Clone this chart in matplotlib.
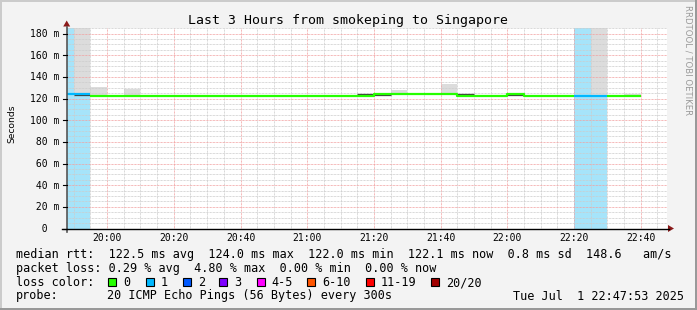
import numpy as np
import matplotlib.pyplot as plt
from matplotlib.lines import Line2D
from matplotlib.patches import Rectangle, Polygon

W, H = 697, 310

# 5 minute bins, start minute counted from 19:00
bin_start = np.arange(45, 230, 5)
median = [124.5, 124.5, 122.5, 122.5, 122.5, 122.5, 122.5, 122.5, 122.5, 122.5,
          122.5, 122.5, 122.5, 122.5, 122.5, 122.5, 122.5, 122.5, 122.3, 124.4,
          124.4, 124.4, 124.4, 124.4, 122.3, 122.3, 122.3, 124.4, 122.3, 122.3,
          122.3, 122.3, 122.3, 122.3, 122.3, np.nan, np.nan]
loss = [1, 1, 0, 0, 0, 0, 0, 0, 0, 0, 0, 0, 0, 0, 0, 0, 0, 0, 0, 0,
        0, 0, 0, 0, 0, 0, 0, 0, 0, 0, 0, 1, 1, 0, 0, 0, 0]
smoke_top = [124.5, 190, 130.3, 122.5, 128.8, 122.5, 122.5, 122.5, 122.5, 122.5,
             122.5, 122.5, 122.5, 122.5, 122.5, 122.5, 122.5, 122.5, 122.3, 124.4,
             127.8, 124.4, 124.4, 133.4, 122.3, 122.3, 122.3, 124.4, 122.3, 122.3,
             122.3, 122.3, 190, 122.3, 123.9, np.nan, np.nan]
dark_smoke = [np.nan, 123.2, np.nan, np.nan, np.nan, np.nan, np.nan, np.nan, np.nan, np.nan,
              np.nan, np.nan, np.nan, np.nan, np.nan, np.nan, np.nan, np.nan, 123.9, 123.0,
              np.nan, np.nan, np.nan, np.nan, 123.9, np.nan, np.nan, 123.0, np.nan, np.nan,
              np.nan, np.nan, np.nan, np.nan, np.nan, np.nan, np.nan]

x_ticks = [60, 80, 100, 120, 140, 160, 180, 200, 220]
x_labels = ['20:00', '20:20', '20:40', '21:00', '21:20', '21:40', '22:00', '22:20', '22:40']
y_ticks = [0, 20, 40, 60, 80, 100, 120, 140, 160, 180]
y_labels = ['  0  ', ' 20 m', ' 40 m', ' 60 m', ' 80 m', '100 m', '120 m', '140 m', '160 m', '180 m']

loss_names = ['0', '1', '2', '3', '4-5', '6-10', '11-19', '20/20']
loss_colors = ['#26ff00', '#00b8ff', '#0059ff', '#7e00ff', '#ff00ff', '#ff5500', '#ff0000', '#a10000']
loss_box_x = [108.3, 145.7, 182.7, 219.3, 256.7, 307.3, 365.7, 430.7]

legend_rows = [
    'median rtt:  122.5 ms avg  124.0 ms max  122.0 ms min  122.1 ms now  0.8 ms sd  148.6   am/s',
    'packet loss: 0.29 % avg  4.80 % max  0.00 % min  0.00 % now',
]
probe_text = '20 ICMP Echo Pings (56 Bytes) every 300s'
stamp = 'Tue Jul  1 22:47:53 2025'
title = 'Last 3 Hours from smokeping to Singapore'


def fx(x):
    return x / W


def fy(y):
    return 1 - y / H


mono = 'DejaVu Sans Mono'
fig = plt.figure(figsize=(W / 100, H / 100), dpi=100, facecolor='#f3f3f3')

# frame shading
fig.add_artist(Rectangle((0, fy(2)), 1, 2 / H, transform=fig.transFigure, color='#cbcbcb', lw=0))
fig.add_artist(Rectangle((0, 0), 2 / W, 1, transform=fig.transFigure, color='#cbcbcb', lw=0))
fig.add_artist(Rectangle((0, 0), 1, 2 / H, transform=fig.transFigure, color='#999999', lw=0))
fig.add_artist(Rectangle((fx(695), 0), 2 / W, 1, transform=fig.transFigure, color='#999999', lw=0))

x0, x1 = 66.7, 667.0
y0, y1 = 228.5, 28.0
ax = fig.add_axes([fx(x0), fy(y0), (x1 - x0) / W, (y0 - y1) / H])
ax.set_facecolor('white')
ax.set_xlim(47 + 53 / 60, 227 + 53 / 60)
ax.set_ylim(0, 185.1)
for s in ax.spines.values():
    s.set_visible(False)
ax.set_xticks([])
ax.set_yticks([])

top = 185.1
med = np.array(median, dtype=float)
ls = np.array(loss)
st = np.array(smoke_top, dtype=float)
edges = np.append(bin_start, bin_start[-1] + 5)

# loss background
for i in range(len(ls)):
    if ls[i] > 0:
        ax.bar(bin_start[i], top, width=5, align='edge', color='#a6e4fa', lw=0, zorder=1)

# smoke
ax.bar(bin_start, st - med, bottom=med, width=5, align='edge', color='#dcdcdc', lw=0, zorder=1.2)

# grid
dot = (0, (0.72, 0.72))
for m in range(50, 228, 5):
    if m in x_ticks:
        ax.axvline(m, color='#f2a0a0', lw=0.72, ls=dot, zorder=1.5)
    else:
        ax.axvline(m, color='#cccccc', lw=0.72, ls=dot, zorder=1.5)
for v in range(5, 186, 5):
    if v % 20 == 0:
        ax.axhline(v, color='#f2a0a0', lw=0.72, ls=dot, zorder=1.5)
    else:
        ax.axhline(v, color='#cccccc', lw=0.72, ls=dot, zorder=1.5)

# dark smoke near median
ax.hlines(dark_smoke, bin_start, bin_start + 5, color='#404040', lw=0.9, zorder=2)

# median line coloured by loss
for k in range(2):
    vals = np.where(ls == k, med, np.nan)
    ax.plot(edges, np.append(vals, vals[-1]), drawstyle='steps-post',
            color=loss_colors[k], lw=1.6, zorder=3, solid_capstyle='butt')

# axes lines and arrows
fig.add_artist(Line2D([fx(x0), fx(x0)], [fy(y0 + 3), fy(27)], transform=fig.transFigure, color='#555555', lw=1.2))
fig.add_artist(Line2D([fx(62), fx(669)], [fy(y0), fy(y0)], transform=fig.transFigure, color='black', lw=1.0))
fig.add_artist(Polygon([(fx(x0 - 3.5), fy(26.5)), (fx(x0 + 3.5), fy(26.5)), (fx(x0), fy(20.5))],
                       transform=fig.transFigure, color='#8b1a1a', lw=0))
fig.add_artist(Polygon([(fx(668), fy(y0 - 3.5)), (fx(668), fy(y0 + 3.5)), (fx(674), fy(y0))],
                       transform=fig.transFigure, color='#8b1a1a', lw=0))

# y ticks
ppu = (y0 - y1) / top
for v, lab in zip(y_ticks, y_labels):
    yy = y0 - v * ppu
    fig.add_artist(Line2D([fx(62.5), fx(x0)], [fy(yy), fy(yy)], transform=fig.transFigure, color='black', lw=0.8))
    fig.text(fx(30), fy(yy + 3.6), lab, family=mono, size=7, ha='left', va='baseline')

# x ticks
ppm = (x1 - x0) / 180.0
for m, lab in zip(x_ticks, x_labels):
    xx = x0 + (m - (47 + 53 / 60)) * ppm
    fig.text(fx(xx), fy(240.7), lab, family=mono, size=7, ha='center', va='baseline')

fig.text(fx(347.5), fy(24), title, family=mono, size=9.5, ha='center', va='baseline')
fig.text(fx(11.5), fy(124), 'Seconds', family='DejaVu Sans', size=6.6, rotation=90, ha='center', va='center')
fig.text(fx(688), fy(5), 'RRDTOOL / TOBI OETIKER', family='DejaVu Sans', size=6.1, rotation=270,
         ha='center', va='top', color='#9a9a9a')

# legend
fs = 8.45
fig.text(fx(16), fy(258.3), legend_rows[0], family=mono, size=fs, ha='left', va='baseline')
fig.text(fx(16), fy(272.3), legend_rows[1], family=mono, size=fs, ha='left', va='baseline')
fig.text(fx(16), fy(286.0), 'loss color:', family=mono, size=fs, ha='left', va='baseline')
for name, col, bx in zip(loss_names, loss_colors, loss_box_x):
    fig.add_artist(Rectangle((fx(bx), fy(286.3)), 8 / W, 8 / H, transform=fig.transFigure,
                             facecolor=col, edgecolor='black', lw=0.8))
    fig.text(fx(bx + 15), fy(286.0), name, family=mono, size=fs, ha='left', va='baseline')
fig.text(fx(16), fy(299.5), 'probe:', family=mono, size=fs, ha='left', va='baseline')
fig.text(fx(107.3), fy(299.5), probe_text, family=mono, size=fs, ha='left', va='baseline')
fig.text(fx(513.3), fy(299.5), stamp, family=mono, size=fs, ha='left', va='baseline')

fig.savefig('out.png', dpi=100, facecolor=fig.get_facecolor())
